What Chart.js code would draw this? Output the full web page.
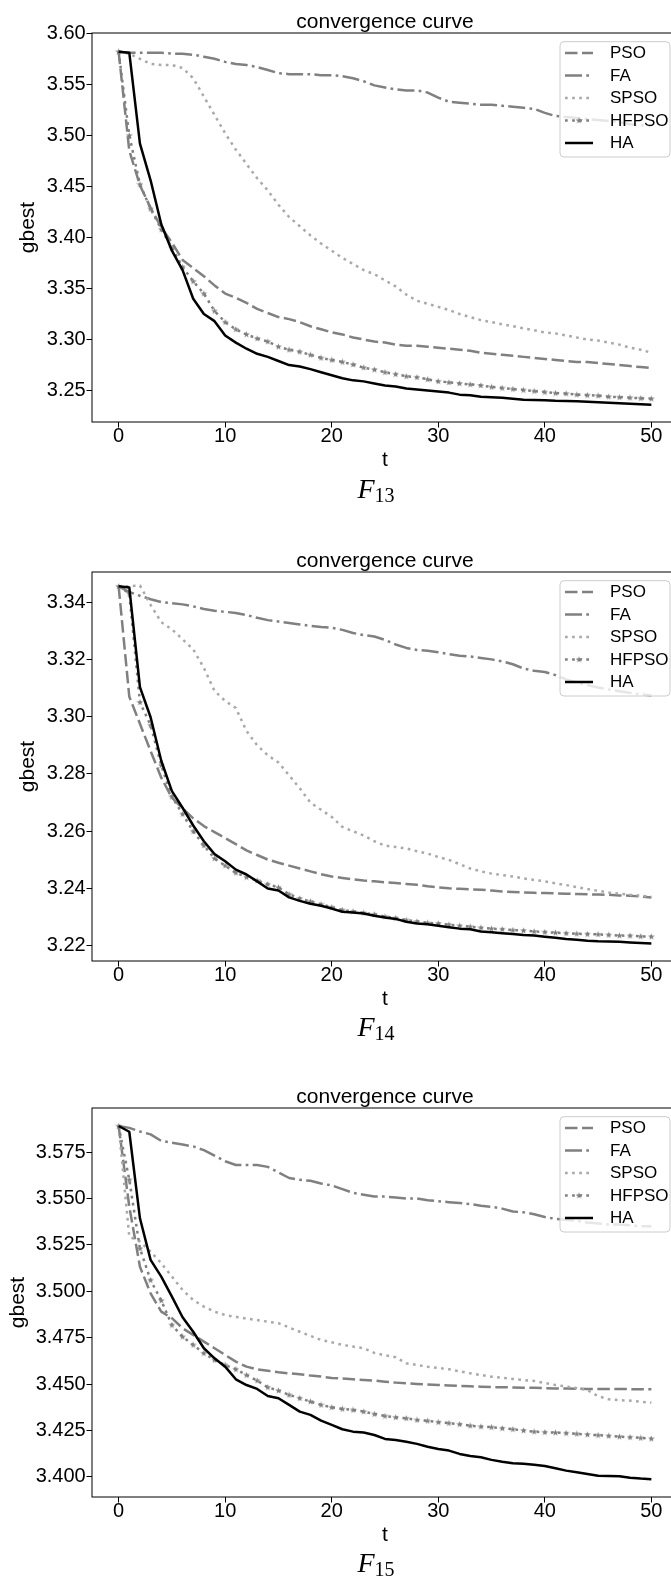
<!DOCTYPE html>
<html>
<head>
<meta charset="utf-8">
<script src="https://cdn.jsdelivr.net/npm/chart.js@4/dist/chart.umd.min.js"></script>
<style>
  html, body { margin: 0; padding: 0; background: #fff; }
  body { width: 671px; height: 1580px; overflow: hidden; position: relative; }
  canvas { position: absolute; left: 0; }
  .caption { position: absolute; left: 0; width: 752px; text-align: center; font-family: "Liberation Serif", serif; font-size: 28px; line-height: 30px; color: #000; }
  .caption sub { font-size: 20px; font-style: normal; vertical-align: -4px; line-height: 0; }
</style>
</head>
<body>
<canvas id="f13" width="690" height="480" style="top:0px"></canvas>
<div class="caption" style="top:474px"><i>F</i><sub>13</sub></div>
<canvas id="f14" width="690" height="480" style="top:539px"></canvas>
<div class="caption" style="top:1012px"><i>F</i><sub>14</sub></div>
<canvas id="f15" width="690" height="480" style="top:1075px"></canvas>
<div class="caption" style="top:1548px"><i>F</i><sub>15</sub></div>
<script>
const iterations = [0, 1, 2, 3, 4, 5, 6, 7, 8, 9, 10, 11, 12, 13, 14, 15, 16, 17, 18, 19, 20,
  21, 22, 23, 24, 25, 26, 27, 28, 29, 30, 31, 32, 33, 34, 35, 36, 37, 38, 39, 40,
  41, 42, 43, 44, 45, 46, 47, 48, 49, 50];
const xTicks = [0, 10, 20, 30, 40, 50];
const seriesNames = ['PSO', 'FA', 'SPSO', 'HFPSO', 'HA'];

// F13
const f13PSO = [3.582, 3.485, 3.451, 3.429, 3.410, 3.395, 3.378, 3.370, 3.362, 3.353, 3.345, 3.341, 3.336, 3.330, 3.326, 3.322, 3.320, 3.317, 3.313, 3.310, 3.307,
  3.305, 3.302, 3.300, 3.298, 3.297, 3.295, 3.294, 3.294, 3.293, 3.292, 3.291, 3.290, 3.289, 3.287, 3.286, 3.285, 3.284, 3.283, 3.282, 3.281,
  3.280, 3.279, 3.278, 3.278, 3.277, 3.276, 3.275, 3.274, 3.273, 3.272];
const f13FA = [3.582, 3.581, 3.581, 3.581, 3.581, 3.580, 3.580, 3.579, 3.577, 3.575, 3.572, 3.570, 3.569, 3.567, 3.564, 3.561, 3.560, 3.560, 3.560, 3.559, 3.559,
  3.558, 3.556, 3.553, 3.549, 3.547, 3.545, 3.544, 3.544, 3.542, 3.537, 3.533, 3.532, 3.531, 3.530, 3.530, 3.529, 3.528, 3.527, 3.526, 3.522,
  3.519, 3.518, 3.517, 3.516, 3.515, 3.514, 3.513, 3.511, 3.510, 3.509];
const f13SPSO = [3.582, 3.580, 3.575, 3.570, 3.569, 3.569, 3.566, 3.556, 3.538, 3.520, 3.502, 3.486, 3.472, 3.458, 3.446, 3.432, 3.420, 3.411, 3.402, 3.394, 3.387,
  3.380, 3.374, 3.368, 3.364, 3.358, 3.352, 3.344, 3.338, 3.335, 3.332, 3.329, 3.325, 3.322, 3.319, 3.317, 3.315, 3.313, 3.311, 3.309, 3.307,
  3.306, 3.304, 3.302, 3.300, 3.299, 3.297, 3.295, 3.292, 3.290, 3.287];
const f13HFPSO = [3.582, 3.500, 3.452, 3.428, 3.408, 3.390, 3.371, 3.357, 3.345, 3.328, 3.317, 3.310, 3.305, 3.301, 3.298, 3.293, 3.290, 3.288, 3.285, 3.282, 3.280,
  3.278, 3.2755, 3.2725, 3.2705, 3.268, 3.266, 3.264, 3.263, 3.261, 3.259, 3.258, 3.257, 3.256, 3.255, 3.2535, 3.2525, 3.2515, 3.2505, 3.2495, 3.2485,
  3.2475, 3.247, 3.246, 3.2455, 3.245, 3.244, 3.2435, 3.243, 3.2425, 3.242];
const f13HA = [3.582, 3.581, 3.492, 3.456, 3.413, 3.387, 3.368, 3.340, 3.325, 3.318, 3.304, 3.297, 3.291, 3.286, 3.283, 3.279, 3.275, 3.2735, 3.271, 3.268, 3.265,
  3.262, 3.260, 3.259, 3.257, 3.255, 3.254, 3.252, 3.251, 3.250, 3.249, 3.248, 3.246, 3.2455, 3.244, 3.2435, 3.243, 3.242, 3.241, 3.2408, 3.2405,
  3.240, 3.2398, 3.2395, 3.239, 3.2385, 3.238, 3.2375, 3.237, 3.2365, 3.236];
const f13Ticks = [3.25, 3.30, 3.35, 3.40, 3.45, 3.50, 3.55, 3.60];

// F14
const f14PSO = [3.3455, 3.3070, 3.2975, 3.2880, 3.2787, 3.2717, 3.2680, 3.2645, 3.2618, 3.2597, 3.2576, 3.2555, 3.2533, 3.2517, 3.2501, 3.2490, 3.2480, 3.2470, 3.2460, 3.2450, 3.2442,
  3.2437, 3.2432, 3.2428, 3.2425, 3.2422, 3.2419, 3.2416, 3.2413, 3.2408, 3.2404, 3.2401, 3.2399, 3.2397, 3.2396, 3.2393, 3.2390, 3.2388, 3.2386, 3.2385, 3.2384,
  3.2383, 3.2382, 3.2381, 3.2380, 3.2379, 3.2378, 3.2376, 3.2375, 3.2372, 3.2369];
const f14FA = [3.3455, 3.3435, 3.3422, 3.3410, 3.3400, 3.3396, 3.3392, 3.3385, 3.3376, 3.3370, 3.3366, 3.3362, 3.3355, 3.3345, 3.3337, 3.3332, 3.3327, 3.3322, 3.3317, 3.3313, 3.3310,
  3.3303, 3.3292, 3.3285, 3.3280, 3.3268, 3.3252, 3.3240, 3.3233, 3.3230, 3.3225, 3.3218, 3.3213, 3.3210, 3.3205, 3.3200, 3.3193, 3.3183, 3.3168, 3.3160, 3.3156,
  3.3145, 3.3130, 3.3120, 3.3110, 3.3102, 3.3095, 3.3089, 3.3083, 3.3078, 3.3074];
const f14SPSO = [3.3455, 3.3455, 3.3458, 3.3390, 3.3330, 3.3305, 3.3270, 3.3235, 3.3170, 3.3090, 3.3055, 3.3030, 3.2950, 3.2900, 3.2865, 3.2840, 3.2795, 3.2750, 3.2700, 3.2675, 3.2650,
  3.2615, 3.2600, 3.2585, 3.2565, 3.2550, 3.2545, 3.2540, 3.2530, 3.2522, 3.2510, 3.2500, 3.2485, 3.2470, 3.2460, 3.2452, 3.2447, 3.2442, 3.2435, 3.2430, 3.2425,
  3.2418, 3.2412, 3.2405, 3.2398, 3.2392, 3.2386, 3.2382, 3.2378, 3.2375, 3.2372];
const f14HFPSO = [3.3455, 3.3430, 3.3050, 3.2970, 3.2830, 3.2720, 3.2660, 3.2600, 3.2550, 3.2505, 3.2480, 3.2455, 3.2440, 3.2428, 3.2415, 3.2404, 3.2380, 3.2365, 3.2355, 3.2345, 3.2335,
  3.2325, 3.2320, 3.2315, 3.2310, 3.2302, 3.2297, 3.2290, 3.2285, 3.2280, 3.2278, 3.2274, 3.2270, 3.2267, 3.2263, 3.2260, 3.2258, 3.2255, 3.2253, 3.2250, 3.2248,
  3.2246, 3.2244, 3.2242, 3.2241, 3.2240, 3.2238, 3.2236, 3.2235, 3.2233, 3.2232];
const f14HA = [3.3455, 3.3451, 3.3103, 3.2998, 3.2846, 3.2740, 3.2682, 3.2620, 3.2565, 3.2520, 3.2495, 3.2466, 3.2449, 3.2425, 3.2400, 3.2393, 3.2369, 3.2357, 3.2347, 3.2340, 3.2330,
  3.2319, 3.2316, 3.2313, 3.2305, 3.2299, 3.2294, 3.2284, 3.2278, 3.2275, 3.2270, 3.2265, 3.2260, 3.2258, 3.2250, 3.2247, 3.2244, 3.2241, 3.2238, 3.2236, 3.2232,
  3.2228, 3.2224, 3.2221, 3.2218, 3.2216, 3.2215, 3.2214, 3.2212, 3.2210, 3.2208];
const f14Ticks = [3.22, 3.24, 3.26, 3.28, 3.30, 3.32, 3.34];

// F15
const f15PSO = [3.589, 3.5456, 3.5132, 3.4989, 3.4890, 3.4855, 3.4801, 3.4765, 3.4729, 3.4693, 3.4657, 3.4621, 3.4594, 3.4580, 3.4572, 3.4564, 3.4558, 3.4553, 3.4546, 3.4541, 3.4533,
  3.4530, 3.4526, 3.4522, 3.4519, 3.4513, 3.4508, 3.4504, 3.4501, 3.4498, 3.4495, 3.4492, 3.4490, 3.4488, 3.4486, 3.4484, 3.4483, 3.4482, 3.4481, 3.4480, 3.4478,
  3.4477, 3.4476, 3.4475, 3.4474, 3.4474, 3.4473, 3.4473, 3.4473, 3.4472, 3.4472];
const f15FA = [3.589, 3.588, 3.586, 3.5845, 3.581, 3.580, 3.579, 3.578, 3.576, 3.573, 3.570, 3.568, 3.568, 3.568, 3.567, 3.564, 3.561, 3.560, 3.5595, 3.558, 3.557,
  3.555, 3.553, 3.552, 3.551, 3.551, 3.5505, 3.550, 3.550, 3.549, 3.5485, 3.548, 3.5475, 3.547, 3.546, 3.5455, 3.5445, 3.543, 3.5425, 3.5415, 3.540,
  3.539, 3.5385, 3.538, 3.537, 3.5365, 3.536, 3.536, 3.5355, 3.535, 3.535];
const f15SPSO = [3.589, 3.5294, 3.5267, 3.5213, 3.5151, 3.5079, 3.5007, 3.4953, 3.4917, 3.4890, 3.4872, 3.4862, 3.4853, 3.4845, 3.4836, 3.4828, 3.4805, 3.4782, 3.4760, 3.4738, 3.4725,
  3.4711, 3.4702, 3.4693, 3.4668, 3.4655, 3.4645, 3.4612, 3.4603, 3.4594, 3.4587, 3.4580, 3.4569, 3.4558, 3.4549, 3.4540, 3.4534, 3.4528, 3.4522, 3.4517, 3.4506,
  3.4495, 3.4487, 3.4478, 3.4467, 3.4435, 3.4418, 3.4413, 3.4411, 3.4405, 3.4400];
const f15HFPSO = [3.589, 3.5600, 3.5230, 3.5060, 3.4950, 3.4818, 3.4755, 3.4711, 3.4666, 3.4630, 3.4603, 3.4580, 3.4549, 3.4519, 3.4483, 3.4465, 3.4442, 3.4424, 3.4406, 3.4388, 3.4375,
  3.4366, 3.4361, 3.4352, 3.4339, 3.4328, 3.4321, 3.4316, 3.4307, 3.4302, 3.4295, 3.4290, 3.4284, 3.4276, 3.4271, 3.4268, 3.4262, 3.4257, 3.4250, 3.4244, 3.4241,
  3.4239, 3.4236, 3.4232, 3.4228, 3.4225, 3.4221, 3.4217, 3.4214, 3.4210, 3.4206];
const f15HA = [3.589, 3.5859, 3.5393, 3.5169, 3.5079, 3.4971, 3.4860, 3.4782, 3.4693, 3.4639, 3.4594, 3.4526, 3.4495, 3.4474, 3.4436, 3.4424, 3.4388, 3.4352, 3.4334, 3.4303, 3.4280,
  3.4257, 3.4244, 3.4239, 3.4226, 3.4205, 3.4199, 3.4190, 3.4178, 3.4163, 3.4151, 3.4142, 3.4124, 3.4113, 3.4106, 3.4092, 3.4082, 3.4074, 3.4071, 3.4066, 3.4059,
  3.4047, 3.4034, 3.4025, 3.4016, 3.4007, 3.4005, 3.4004, 3.3996, 3.3991, 3.3988];
const f15Ticks = [3.400, 3.425, 3.450, 3.475, 3.500, 3.525, 3.550, 3.575];

const lineColors = ['#808080', '#808080', '#a9a9a9', '#808080', '#000000'];
const lineDashes = [[12.5, 4.5], [17, 4.3, 2.7, 4.3], [2.7, 4.4], [2.7, 4.4], []];
const sansFont = '"Liberation Sans", Arial, sans-serif';

// matplotlib style '*' marker
const starMark = document.createElement('canvas');
starMark.width = 7;
starMark.height = 7;
(function () {
    const c = starMark.getContext('2d');
    c.fillStyle = '#7f7f7f';
    c.beginPath();
    for (let i = 0; i < 10; i++) {
        const r = i % 2 ? 1.4 : 3.5;
        const a = -Math.PI / 2 + i * Math.PI / 5;
        c.lineTo(3.5 + r * Math.cos(a), 3.7 + r * Math.sin(a));
    }
    c.closePath();
    c.fill();
})();

const frameAndKey = {
    id: 'frameAndKey',
    afterDatasetsDraw(chart) {
        const ctx = chart.ctx;
        const a = chart.chartArea;
        ctx.save();
        ctx.strokeStyle = '#000';
        ctx.lineWidth = 1;
        ctx.setLineDash([]);
        ctx.strokeRect(a.left, a.top, a.right - a.left, a.bottom - a.top);

        const w = 110, h = 115.3;
        const x0 = a.right - 8 - w, y0 = a.top + 8.7;
        ctx.beginPath();
        if (ctx.roundRect) ctx.roundRect(x0, y0, w, h, 4); else ctx.rect(x0, y0, w, h);
        ctx.fillStyle = 'rgba(255,255,255,0.8)';
        ctx.fill();
        ctx.strokeStyle = '#cccccc';
        ctx.stroke();

        ctx.font = '17px ' + sansFont;
        ctx.textBaseline = 'middle';
        ctx.textAlign = 'left';
        chart.data.datasets.forEach((ds, i) => {
            const y = y0 + 11.3 + i * 22.5;
            ctx.beginPath();
            ctx.setLineDash(ds.borderDash);
            ctx.lineWidth = ds.borderWidth;
            ctx.strokeStyle = ds.borderColor;
            ctx.moveTo(x0 + 5, y);
            ctx.lineTo(x0 + 33, y);
            ctx.stroke();
            if (ds.pointStyle === starMark) {
                ctx.drawImage(starMark, x0 + 19 - 3.5, y - 3.5);
            }
            ctx.fillStyle = '#000';
            ctx.fillText(ds.label, x0 + 50, y + 0.5);
        });
        ctx.restore();
    }
};

function makeChart(id, series, yMin, yMax, yTicks, decimals, gbestPad) {
    const datasets = series.map((values, i) => ({
        label: seriesNames[i],
        data: values.map((v, k) => ({ x: iterations[k], y: v })),
        borderColor: lineColors[i],
        borderDash: lineDashes[i],
        borderWidth: 2.5,
        borderCapStyle: 'butt',
        borderJoinStyle: 'round',
        tension: 0,
        fill: false,
        order: series.length - 1 - i,
        pointRadius: seriesNames[i] === 'HFPSO' ? 3 : 0,
        pointStyle: seriesNames[i] === 'HFPSO' ? starMark : 'circle'
    }));

    return new Chart(document.getElementById(id), {
        type: 'line',
        data: { datasets: datasets },
        plugins: [frameAndKey],
        options: {
            responsive: false,
            animation: false,
            devicePixelRatio: 1,
            events: [],
            layout: { padding: { top: 0.5, right: 12, bottom: 0, left: 0 } },
            plugins: {
                legend: { display: false },
                tooltip: { enabled: false },
                title: {
                    display: true,
                    text: 'convergence curve',
                    fullSize: false,
                    color: '#000',
                    font: { family: sansFont, size: 21, weight: 'normal', lineHeight: 1 },
                    padding: { top: 11.5, bottom: 0 }
                }
            },
            scales: {
                x: {
                    type: 'linear',
                    min: -2.5,
                    max: 52.5,
                    afterBuildTicks: s => { s.ticks = xTicks.map(v => ({ value: v })); },
                    afterFit: s => { s.height = 58; },
                    border: { display: false },
                    grid: { drawOnChartArea: false, drawTicks: true, tickLength: 5.5, color: '#000' },
                    ticks: {
                        color: '#000',
                        padding: -1.5,
                        maxRotation: 0,
                        autoSkip: false,
                        font: { family: sansFont, size: 20, lineHeight: 1 }
                    },
                    title: {
                        display: true,
                        text: 't',
                        color: '#000',
                        font: { family: sansFont, size: 21, lineHeight: 1.2 },
                        padding: { top: 0, bottom: 7.4 }
                    }
                },
                y: {
                    type: 'linear',
                    min: yMin,
                    max: yMax,
                    afterBuildTicks: s => { s.ticks = yTicks.map(v => ({ value: v })); },
                    afterFit: s => { s.width = 92; },
                    border: { display: false },
                    grid: { drawOnChartArea: false, drawTicks: true, tickLength: 5.5, color: '#000' },
                    ticks: {
                        color: '#000',
                        padding: 0.8,
                        autoSkip: false,
                        font: { family: sansFont, size: 20 },
                        callback: v => Number(v).toFixed(decimals)
                    },
                    title: {
                        display: true,
                        text: 'gbest',
                        color: '#000',
                        font: { family: sansFont, size: 21, lineHeight: 1.2 },
                        padding: { top: gbestPad, bottom: 0 }
                    }
                }
            }
        }
    });
}

makeChart('f13', [f13PSO, f13FA, f13SPSO, f13HFPSO, f13HA], 3.2192, 3.6003, f13Ticks, 2, 15.4);
makeChart('f14', [f14PSO, f14FA, f14SPSO, f14HFPSO, f14HA], 3.2147, 3.3505, f14Ticks, 2, 15.4);
makeChart('f15', [f15PSO, f15FA, f15SPSO, f15HFPSO, f15HA], 3.3892, 3.5987, f15Ticks, 3, 5.4);
</script>
</body>
</html>
